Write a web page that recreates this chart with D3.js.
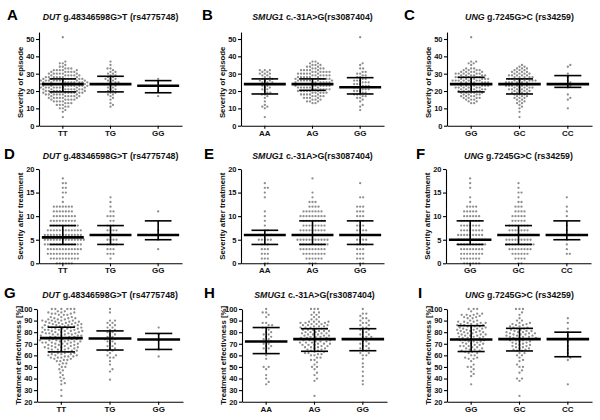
<!DOCTYPE html>
<html><head><meta charset="utf-8">
<script src="https://cdn.jsdelivr.net/npm/d3@7"></script>
<style>body{margin:0;background:#fff}svg text{font-family:"Liberation Sans",Arial,sans-serif;font-weight:bold}</style>
</head><body><svg id="c" width="600" height="420"></svg>
<script>
// ---------- DATA ----------
const panelLetters = ["A","B","C","D","E","F","G","H","I"];
const geneNames = ["DUT","SMUG1","UNG"];
const variantLabels = [" g.48346598G>T (rs4775748)", " c.-31A>G(rs3087404)", " g.7245G>C (rs34259)"];
const genotypeLabels = [["TT","TG","GG"],["AA","AG","GG"],["GG","GC","CC"]];
const yTitles = ["Severity of episode","Severity after treatment","Treatment effectivness [%]"];
const yTicks = [[0,10,20,30,40,50],[0,5,10,15,20],[20,30,40,50,60,70,80,90,100]];

// points: [value, count] per genotype
const episodeDUT = [
 [[51,1],[37,1],[36,2],[35,1],[34,2],[33,3],[32,5],[31,5],[30,6],[29,6],[28,7],[27,8],[26,9],[25,9],[24,9],[23,9],[22,9],[21,8],[20,8],[19,8],[18,7],[17,6],[16,6],[15,5],[14,4],[13,3],[12,3],[11,2],[10,2],[9,1],[8,1],[5,1]],
 [[37,1],[35,1],[33,2],[32,1],[31,2],[30,2],[29,2],[28,2],[27,3],[26,2],[25,3],[24,3],[23,2],[22,2],[21,2],[20,2],[19,2],[18,2],[17,1],[16,1],[15,1],[13,1],[12,1],[11,1]],
 [[27,1],[25,1],[23,1],[20,1],[17,1]]
];
const episodeSMUG1 = [
 [[32,3],[31,2],[30,3],[29,2],[28,2],[27,3],[26,3],[25,3],[24,3],[23,2],[22,2],[21,2],[20,1],[19,2],[18,2],[17,1],[16,1],[14,1],[12,1],[11,2],[10,1],[5,1]],
 [[37,2],[36,2],[35,3],[34,3],[33,4],[32,5],[31,6],[30,6],[29,6],[28,6],[27,7],[26,7],[25,7],[24,7],[23,7],[22,6],[21,6],[20,6],[19,5],[18,5],[17,4],[16,4],[15,3],[14,3],[13,2]],
 [[51,1],[36,1],[35,1],[33,2],[31,2],[30,2],[29,2],[28,2],[27,2],[26,3],[25,3],[24,3],[23,3],[22,3],[21,3],[20,3],[19,2],[18,3],[17,2],[16,2],[15,1],[14,1],[12,1],[11,1],[9,1]]
];
const episodeUNG = [
 [[51,1],[37,2],[36,2],[35,1],[33,3],[32,4],[31,5],[30,6],[29,6],[28,6],[27,7],[26,7],[25,7],[24,7],[23,7],[22,6],[21,6],[20,5],[19,5],[18,4],[17,4],[16,4],[15,3],[14,2],[13,2]],
 [[35,1],[34,2],[33,3],[32,3],[31,4],[30,4],[29,5],[28,5],[27,5],[26,6],[25,6],[24,6],[23,6],[22,5],[21,5],[20,4],[19,4],[18,3],[17,3],[16,3],[15,2],[14,2],[13,2],[12,1],[11,1],[10,1],[8,1],[5,1]],
 [[35,1],[34,1],[30,1],[28,1],[26,1],[25,1],[24,1],[23,1],[22,1],[18,1],[16,1],[15,1],[10,1]]
];
const afterDUT = [
 [[18,1],[17,2],[16,2],[15,2],[14,1],[13,1],[12,7],[11,7],[10,8],[9,9],[8,10],[7,12],[6,13],[5,14],[4,13],[3,12],[2,11],[1,10],[0,6]],
 [[14,1],[13,1],[12,1],[11,2],[10,3],[9,2],[8,3],[7,4],[6,5],[5,4],[4,4],[3,3],[2,3],[1,1]],
 [[11,1],[7,1],[6,1],[5,1],[3,1]]
];
const afterSMUG1 = [
 [[17,1],[16,2],[15,1],[14,1],[11,1],[10,1],[9,1],[8,1],[7,2],[6,5],[5,5],[4,3],[3,3],[2,3],[1,3],[0,2]],
 [[18,1],[15,1],[14,1],[13,3],[12,4],[11,7],[10,9],[9,8],[8,8],[7,9],[6,10],[5,11],[4,10],[3,9],[2,8],[1,6],[0,3]],
 [[17,1],[14,2],[12,3],[11,3],[10,3],[9,3],[8,3],[7,4],[6,4],[5,4],[4,4],[3,3],[2,3],[1,3],[0,2]]
];
const afterUNG = [
 [[18,1],[17,1],[16,1],[14,1],[13,1],[12,4],[11,5],[10,6],[9,7],[8,7],[7,8],[6,9],[5,10],[4,10],[3,8],[2,8],[1,7],[0,6]],
 [[17,1],[16,1],[15,2],[14,1],[13,2],[12,3],[11,4],[10,5],[9,5],[8,7],[7,7],[6,8],[5,9],[4,10],[3,8],[2,6],[1,4],[0,2]],
 [[14,1],[12,1],[11,1],[10,1],[8,1],[7,1],[6,2],[5,1],[4,1],[3,1],[2,2]]
];
const effectDUT = [
 [[100,6],[98,2],[97,3],[96,3],[95,3],[93,3],[92,3],[91,3],[90,4],[89,4],[88,4],[87,4],[86,4],[85,4],[84,4],[83,4],[82,4],[81,4],[80,4],[79,4],[78,4],[77,4],[76,4],[75,4],[74,4],[73,4],[72,4],[71,4],[70,4],[69,3],[68,3],[67,4],[66,3],[65,3],[64,3],[63,3],[62,3],[61,3],[60,3],[59,3],[58,3],[57,2],[56,2],[55,2],[53,2],[52,1],[50,2],[48,1],[47,1],[45,1],[43,1],[41,1],[40,1],[38,1],[36,1],[35,1],[30,1],[25,1]],
 [[100,1],[97,1],[90,2],[88,2],[86,2],[84,2],[82,2],[80,2],[78,2],[76,2],[74,3],[72,2],[70,2],[68,2],[66,2],[64,2],[62,1],[60,2],[58,2],[55,1],[52,1],[48,1],[46,1],[39,1]],
 [[84,1],[78,1],[73,1],[65,1],[59,1]]
];
const effectSMUG1 = [
 [[100,1],[97,2],[95,1],[93,1],[88,2],[86,2],[84,2],[82,1],[80,2],[78,2],[76,2],[74,2],[72,2],[70,2],[68,2],[66,2],[64,1],[60,1],[57,1],[50,2],[48,1],[43,1],[40,1],[37,1],[35,1]],
 [[100,3],[97,2],[95,2],[93,2],[91,2],[89,4],[88,3],[87,3],[86,3],[85,3],[84,3],[83,3],[82,3],[81,3],[80,3],[79,3],[78,3],[77,3],[76,3],[75,3],[74,3],[73,3],[72,3],[71,3],[70,3],[69,3],[68,2],[67,3],[66,2],[65,2],[64,2],[63,2],[62,2],[61,2],[60,2],[58,2],[56,2],[54,1],[52,1],[50,2],[48,1],[45,1],[43,1],[40,1],[38,1],[25,1]],
 [[100,1],[96,2],[94,1],[92,2],[90,2],[88,2],[86,2],[84,2],[82,2],[80,2],[78,2],[76,3],[74,3],[72,2],[70,2],[68,2],[66,2],[64,2],[62,2],[60,2],[57,1],[53,1],[50,1],[46,1],[42,1],[38,1],[35,1]]
];
const effectUNG = [
 [[100,3],[98,1],[96,2],[95,3],[94,2],[93,2],[92,2],[90,2],[89,3],[88,3],[87,3],[86,3],[85,3],[84,3],[83,3],[82,3],[81,3],[80,3],[79,3],[78,3],[77,3],[76,3],[75,3],[74,3],[73,3],[72,3],[71,2],[70,3],[69,2],[68,3],[67,2],[66,2],[65,2],[64,2],[63,2],[62,2],[60,2],[58,2],[57,2],[55,1],[52,1],[50,2],[48,1],[46,1],[44,1],[42,1],[35,1]],
 [[100,3],[97,1],[95,1],[92,1],[90,2],[88,2],[87,2],[86,2],[85,2],[84,2],[83,2],[82,2],[81,3],[80,3],[79,3],[78,3],[77,3],[76,3],[75,3],[74,3],[73,3],[72,2],[71,2],[70,2],[69,2],[68,2],[67,2],[66,2],[65,2],[64,2],[62,2],[60,2],[58,1],[56,1],[55,1],[52,1],[50,2],[47,1],[45,1],[40,2],[38,1],[25,1]],
 [[92,1],[88,1],[83,1],[80,1],[77,1],[74,1],[72,1],[68,1],[65,1],[62,1],[58,1],[56,1],[35,1]]
];

// [median, lower, upper] per genotype
const statsEpisode = [
 [[24,19.5,27],[24,19.5,28.5],[23,19,26]],
 [[24,18.3,27],[24,20.4,27],[22.2,18.3,27.7]],
 [[24,19.5,27.9],[24,18.3,27],[24,22.1,28.9]]
];
const statsAfter = [
 [[5.5,4,8],[6,4,8],[6,5,9]],
 [[6,4,7],[6,4,9],[6,4,9]],
 [[5,4,9],[6,4,8],[6,5,9]]
];
const statsEffect = [
 [[74.9,63,84.3],[74.6,64.6,81.1],[73.7,65.1,78.9]],
 [[72,61.5,84],[74,63.5,83],[74,64,83]],
 [[73.7,63.3,85.6],[74,63.8,83.3],[74,58.8,80]]
];

// ---------- LAYOUT ----------
const rowData = [
  {pts:[episodeDUT,episodeSMUG1,episodeUNG], st:statsEpisode, dom:[0,54], ref:[0,50], px:[125.7,39], cat:135.5, title:19.5, letter:19.5, d:3.0},
  {pts:[afterDUT,afterSMUG1,afterUNG], st:statsAfter, dom:[0,20], ref:[0,20], px:[263.3,169], cat:272, title:159, letter:158.5, d:3.0},
  {pts:[effectDUT,effectSMUG1,effectUNG], st:statsEffect, dom:[20,100], ref:[20,100], px:[401.7,309], cat:411, title:298, letter:298, d:3.4}
];
const colX = [[[39,182],[241,384],[447,592]],[[39,182],[241,384],[446,591]],[[37,183],[242,387],[447,592]]];
const letterX = [[7,202,404],[4,204,416],[4,204,418]];

const svg = d3.select("#c");

function expand(pairs){const out=[];pairs.forEach(([v,c])=>{for(let i=0;i<c;i++)out.push(v);});return out;}

function swarm(vals, y, d){
  const placed=[];
  const sorted=vals.slice().sort((a,b)=>a-b);
  sorted.forEach(v=>{
    const py=y(v);
    for(let k=0;k<400;k++){
      const off=(k%2===1?1:-1)*Math.ceil(k/2)*0.5;
      let ok=true;
      for(const p of placed){
        const dy=p.y-py; if(Math.abs(dy)>=d) continue;
        const dx=p.x-off; if(dx*dx+dy*dy<d*d-0.01){ok=false;break;}
      }
      if(ok){placed.push({x:off,y:py});break;}
    }
  });
  return placed;
}

rowData.forEach((R,ri)=>{
  for(let ci=0;ci<3;ci++){
    const [x0,x1]=colX[ri][ci];
    const g=svg.append("g");
    const r0=R.px[0], r1=R.px[1];
    const k=(r1-r0)/(R.ref[1]-R.ref[0]);
    const y=d3.scaleLinear().domain(R.dom).range([r0+(R.dom[0]-R.ref[0])*k, r0+(R.dom[1]-R.ref[0])*k]);
    const x=d3.scaleBand().domain(genotypeLabels[ci]).range([x0,x1]);

    // points
    R.pts[ci].forEach((pairs,gi)=>{
      const cx=x(genotypeLabels[ci][gi])+x.bandwidth()/2;
      const pts=swarm(expand(pairs),y,R.d);
      g.selectAll(null).data(pts).enter().append("circle")
        .attr("cx",p=>cx+p.x).attr("cy",p=>p.y).attr("r",1.15).attr("fill","#8e8e8e");
    });

    // error bars
    R.st[ci].forEach((s,gi)=>{
      const cx=x(genotypeLabels[ci][gi])+x.bandwidth()/2;
      const bw=x.bandwidth();
      g.append("line").attr("x1",cx).attr("x2",cx).attr("y1",y(s[1])).attr("y2",y(s[2])).attr("stroke","#000").attr("stroke-width",1.6);
      [s[1],s[2]].forEach(v=>g.append("line").attr("x1",cx-bw*0.28).attr("x2",cx+bw*0.28).attr("y1",y(v)).attr("y2",y(v)).attr("stroke","#000").attr("stroke-width",1.6));
      g.append("line").attr("x1",cx-bw*0.44).attr("x2",cx+bw*0.44).attr("y1",y(s[0])).attr("y2",y(s[0])).attr("stroke","#000").attr("stroke-width",2.6);
    });

    // axes
    const ya=g.append("g").attr("transform",`translate(${x0},0)`)
      .call(d3.axisLeft(y).tickValues(yTicks[ri]).tickSize(3).tickSizeOuter(0).tickPadding(1.5));
    const xa=g.append("g").attr("transform",`translate(0,${r0})`)
      .call(d3.axisBottom(x).tickSize(3).tickSizeOuter(0).tickPadding(1.5));
    [ya,xa].forEach(a=>{a.selectAll("path,line").attr("stroke","#000").attr("stroke-width",1.1);a.selectAll("text").attr("fill","#111").style("font-size","7.5px");});
    xa.selectAll("text").style("font-size","8px");

    // y title
    const ym=(y.range()[0]+y(R.ref[1]))/2;
    g.append("text").attr("transform",`translate(${x0-19},${ym}) rotate(-90)`).attr("text-anchor","middle").attr("dy","0.35em")
      .style("font-size","7.8px").attr("fill","#111").text(yTitles[ri]);

    // title
    const t=g.append("text").attr("x",(x0+x1)/2).attr("y",R.title).attr("text-anchor","middle").style("font-size","8.8px").attr("fill","#111");
    t.append("tspan").style("font-style","italic").text(geneNames[ci]);
    t.append("tspan").text(variantLabels[ci]);

    // letter
    g.append("text").attr("x",letterX[ri][ci]).attr("y",R.letter).style("font-size","15px").attr("fill","#000").text(panelLetters[ri*3+ci]);
  }
});
</script></body></html>
